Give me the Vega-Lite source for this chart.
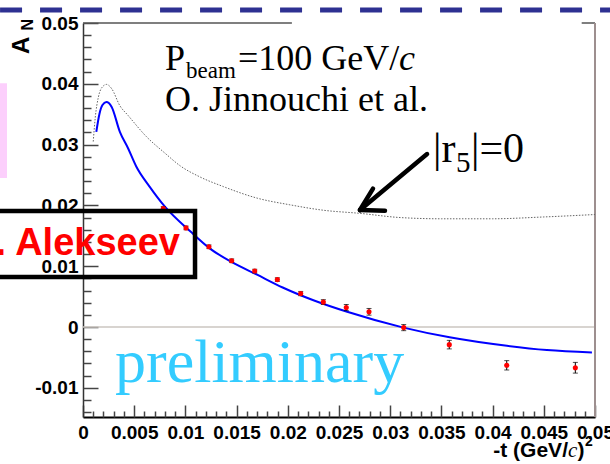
{
  "$schema": "https://vega.github.io/schema/vega-lite/v6.json",
  "width": 512,
  "height": 394,
  "autosize": "none",
  "padding": {"left": 83, "top": 23, "right": 15, "bottom": 47},
  "background": "white",
  "config": {"view": {"stroke": null}},
  "resolve": {"axis": {"x": "independent", "y": "independent"}},
  "layer": [
    {
      "data": {"values": [{"x": -0.0085, "x2": -0.00742, "y": 0.0245, "y2": 0.0401}]},
      "mark": {"type": "rect", "color": "#fccffc"},
      "encoding": {
        "x": {"field": "x", "type": "quantitative", "scale": {"domain": [0, 0.05], "nice": false, "zero": false}, "axis": null},
        "x2": {"field": "x2"},
        "y": {"field": "y", "type": "quantitative", "scale": {"domain": [-0.0148, 0.05], "nice": false, "zero": false}, "axis": null},
        "y2": {"field": "y2"}
      }
    },
    {
      "data": {"values": [{"x": -0.0081, "x2": 0.0515, "y": 0.05214}]},
      "mark": {"type": "rule", "color": "#2e3192", "strokeWidth": 5, "strokeDash": [22, 18]},
      "encoding": {
        "x": {"field": "x", "type": "quantitative", "scale": {"domain": [0, 0.05], "nice": false, "zero": false}, "axis": null},
        "x2": {"field": "x2"},
        "y": {"field": "y", "type": "quantitative", "scale": {"domain": [-0.0148, 0.05], "nice": false, "zero": false}, "axis": null}
      }
    },
    {
      "data": {"values": [{"x": 0, "x2": 0.05, "y": 0}, {"x": 0, "x2": 0.0204, "y": 0.05}, {"x": 0.0487, "x2": 0.05, "y": 0.05}]},
      "mark": {"type": "rule", "strokeWidth": 1.5},
      "encoding": {
        "x": {"field": "x", "type": "quantitative", "scale": {"domain": [0, 0.05], "nice": false, "zero": false}, "axis": null},
        "x2": {"field": "x2"},
        "y": {"field": "y", "type": "quantitative", "scale": {"domain": [-0.0148, 0.05], "nice": false, "zero": false}, "axis": null},
        "color": {"condition": {"test": "datum.y == 0", "value": "#cbc6c0"}, "value": "#555555"}
      }
    },
    {
      "data": {"values": [{"x": 0.05, "y": -0.0148, "y2": 0.05}]},
      "mark": {"type": "rule", "color": "#9d8f8f", "strokeWidth": 2},
      "encoding": {
        "x": {"field": "x", "type": "quantitative", "scale": {"domain": [0, 0.05], "nice": false, "zero": false}, "axis": null},
        "y": {"field": "y", "type": "quantitative", "scale": {"domain": [-0.0148, 0.05], "nice": false, "zero": false}, "axis": null},
        "y2": {"field": "y2"}
      }
    },
    {
      "data": {"values": [
        {"x": 0.0013, "y": 0.0321}, {"x": 0.0016, "y": 0.035}, {"x": 0.0019, "y": 0.0365}, {"x": 0.00228, "y": 0.037},
        {"x": 0.0028, "y": 0.0362}, {"x": 0.0036, "y": 0.0321}, {"x": 0.0044, "y": 0.0294}, {"x": 0.0052, "y": 0.0264},
        {"x": 0.0065, "y": 0.0231}, {"x": 0.008, "y": 0.0198}, {"x": 0.0105, "y": 0.0157}, {"x": 0.0124, "y": 0.0129},
        {"x": 0.0145, "y": 0.0107}, {"x": 0.017, "y": 0.0086}, {"x": 0.0195, "y": 0.0065}, {"x": 0.0225, "y": 0.0044},
        {"x": 0.0258, "y": 0.0025}, {"x": 0.0313, "y": -0.0001}, {"x": 0.0358, "y": -0.0017}, {"x": 0.0414, "y": -0.0031},
        {"x": 0.0453, "y": -0.0038}, {"x": 0.0497, "y": -0.0042}
      ]},
      "mark": {"type": "line", "color": "#0000ff", "strokeWidth": 2, "interpolate": "monotone"},
      "encoding": {
        "x": {"field": "x", "type": "quantitative", "scale": {"domain": [0, 0.05], "nice": false, "zero": false},
          "axis": {"orient": "bottom", "values": [0, 0.005, 0.01, 0.015, 0.02, 0.025, 0.03, 0.035, 0.04, 0.045, 0.05], "format": "~g",
            "ticks": false, "grid": false, "domain": true, "domainColor": "#000000", "domainWidth": 2,
            "labelFont": "Liberation Sans", "labelFontWeight": "bold", "labelFontSize": 19, "labelColor": "#000000",
            "labelPadding": 6, "labelFlush": false, "labelOverlap": false, "title": null}},
        "y": {"field": "y", "type": "quantitative", "scale": {"domain": [-0.0148, 0.05], "nice": false, "zero": false},
          "axis": {"orient": "left", "values": [-0.01, 0, 0.01, 0.02, 0.03, 0.04, 0.05],
            "labelExpr": "datum.value < 0 ? '-' + format(-datum.value, '~g') : format(datum.value, '~g')",
            "ticks": false, "grid": false, "domain": true, "domainColor": "#333333", "domainWidth": 1.5,
            "labelFont": "Liberation Sans", "labelFontWeight": "bold", "labelFontSize": 19, "labelColor": "#000000",
            "labelPadding": 5, "labelFlush": false, "labelOverlap": false, "title": null}}
      }
    },
    {
      "data": {"values": [
        {"x": 0.001, "y": 0.0305}, {"x": 0.0012, "y": 0.0345}, {"x": 0.0015, "y": 0.0378}, {"x": 0.0019, "y": 0.0395},
        {"x": 0.0023, "y": 0.0399}, {"x": 0.0028, "y": 0.0392}, {"x": 0.0036, "y": 0.0364}, {"x": 0.0044, "y": 0.0348},
        {"x": 0.0062, "y": 0.0313}, {"x": 0.008, "y": 0.0286}, {"x": 0.0095, "y": 0.0265}, {"x": 0.0114, "y": 0.0247},
        {"x": 0.0137, "y": 0.0231}, {"x": 0.017, "y": 0.0212}, {"x": 0.0202, "y": 0.0201}, {"x": 0.0235, "y": 0.0192},
        {"x": 0.027, "y": 0.0187}, {"x": 0.031, "y": 0.018}, {"x": 0.035, "y": 0.0178}, {"x": 0.04, "y": 0.0178},
        {"x": 0.045, "y": 0.0181}, {"x": 0.05, "y": 0.0185}
      ]},
      "mark": {"type": "line", "color": "#666666", "strokeWidth": 1, "strokeDash": [1.5, 1.5], "interpolate": "monotone"},
      "encoding": {
        "x": {"field": "x", "type": "quantitative", "scale": {"domain": [0, 0.05], "nice": false, "zero": false},
          "axis": {"orient": "bottom", "values": [0, 0.005, 0.01, 0.015, 0.02, 0.025, 0.03, 0.035, 0.04, 0.045, 0.05],
            "labels": false, "domain": false, "grid": false, "ticks": true, "tickSize": -12, "tickColor": "#444444", "tickWidth": 1.5, "title": null}},
        "y": {"field": "y", "type": "quantitative", "scale": {"domain": [-0.0148, 0.05], "nice": false, "zero": false},
          "axis": {"orient": "left", "values": [-0.01, 0, 0.01, 0.02, 0.03, 0.04, 0.05],
            "labels": false, "domain": false, "grid": false, "ticks": true, "tickSize": -15, "tickColor": "#444444", "tickWidth": 1.5, "title": null}}
      }
    },
    {
      "data": {"name": "pts", "values": [
        {"x": 0.00784, "y": 0.0195, "lo": 0.0192, "hi": 0.0198},
        {"x": 0.01006, "y": 0.0163, "lo": 0.016, "hi": 0.0166},
        {"x": 0.0123, "y": 0.0132, "lo": 0.0129, "hi": 0.0135},
        {"x": 0.01452, "y": 0.0109, "lo": 0.0106, "hi": 0.0112},
        {"x": 0.01677, "y": 0.0092, "lo": 0.0089, "hi": 0.0095},
        {"x": 0.01898, "y": 0.0078, "lo": 0.0075, "hi": 0.0081},
        {"x": 0.02126, "y": 0.0055, "lo": 0.00515, "hi": 0.00585},
        {"x": 0.02347, "y": 0.0041, "lo": 0.0037, "hi": 0.0045},
        {"x": 0.02571, "y": 0.0032, "lo": 0.0027, "hi": 0.0037},
        {"x": 0.02793, "y": 0.0025, "lo": 0.00195, "hi": 0.00305},
        {"x": 0.03132, "y": -0.0001, "lo": -0.0006, "hi": 0.0004},
        {"x": 0.03577, "y": -0.0029, "lo": -0.0036, "hi": -0.0022},
        {"x": 0.04138, "y": -0.0063, "lo": -0.00707, "hi": -0.00553},
        {"x": 0.04808, "y": -0.0067, "lo": -0.00758, "hi": -0.00582}
      ]},
      "mark": {"type": "errorbar", "ticks": {"size": 5, "color": "#000000"}, "rule": {"color": "#000000", "strokeWidth": 1}},
      "encoding": {
        "x": {"field": "x", "type": "quantitative", "scale": {"domain": [0, 0.05], "nice": false, "zero": false}, "axis": null},
        "y": {"field": "lo", "type": "quantitative", "scale": {"domain": [-0.0148, 0.05], "nice": false, "zero": false}, "axis": null},
        "y2": {"field": "hi"}
      }
    },
    {
      "data": {"name": "pts"},
      "mark": {"type": "point", "filled": true, "color": "#ff0000", "opacity": 1, "size": 26},
      "encoding": {
        "x": {"field": "x", "type": "quantitative", "scale": {"domain": [0, 0.05], "nice": false, "zero": false},
          "axis": {"orient": "bottom", "values": [0.001, 0.002, 0.003, 0.004, 0.006, 0.007, 0.008, 0.009, 0.011, 0.012, 0.013, 0.014, 0.016, 0.017, 0.018, 0.019, 0.021, 0.022, 0.023, 0.024, 0.026, 0.027, 0.028, 0.029, 0.031, 0.032, 0.033, 0.034, 0.036, 0.037, 0.038, 0.039, 0.041, 0.042, 0.043, 0.044, 0.046, 0.047, 0.048, 0.049],
            "labels": false, "domain": false, "grid": false, "ticks": true, "tickSize": -6, "tickColor": "#444444", "tickWidth": 1.5, "title": null}},
        "y": {"field": "y", "type": "quantitative", "scale": {"domain": [-0.0148, 0.05], "nice": false, "zero": false},
          "axis": {"orient": "left", "values": [-0.014, -0.012, -0.008, -0.006, -0.004, -0.002, 0.002, 0.004, 0.006, 0.008, 0.012, 0.014, 0.016, 0.018, 0.022, 0.024, 0.026, 0.028, 0.032, 0.034, 0.036, 0.038, 0.042, 0.044, 0.046, 0.048],
            "labels": false, "domain": false, "grid": false, "ticks": true, "tickSize": -8, "tickColor": "#444444", "tickWidth": 1.5, "title": null}}
      }
    },
    {
      "data": {"values": [
        {"x": 0.0336, "y": 0.02845, "x2": 0.02705, "y2": 0.01924},
        {"x": 0.02705, "y": 0.01924, "x2": 0.02949, "y2": 0.01914},
        {"x": 0.02705, "y": 0.01924, "x2": 0.02832, "y2": 0.02275}
      ]},
      "mark": {"type": "rule", "color": "#000000", "strokeWidth": 4.5, "strokeCap": "round"},
      "encoding": {
        "x": {"field": "x", "type": "quantitative", "scale": {"domain": [0, 0.05], "nice": false, "zero": false}, "axis": null},
        "x2": {"field": "x2"},
        "y": {"field": "y", "type": "quantitative", "scale": {"domain": [-0.0148, 0.05], "nice": false, "zero": false}, "axis": null},
        "y2": {"field": "y2"}
      }
    },
    {
      "data": {"values": [{"x": -0.012, "x2": 0.01094, "y": 0.00822, "y2": 0.01908}]},
      "mark": {"type": "rect", "fill": "transparent", "stroke": "#000000", "strokeWidth": 4.5},
      "encoding": {
        "x": {"field": "x", "type": "quantitative", "scale": {"domain": [0, 0.05], "nice": false, "zero": false}, "axis": null},
        "x2": {"field": "x2"},
        "y": {"field": "y", "type": "quantitative", "scale": {"domain": [-0.0148, 0.05], "nice": false, "zero": false}, "axis": null},
        "y2": {"field": "y2"}
      }
    },
    {
      "data": {"values": [
        {"x": 0.00801, "y": 0.04227, "t": "P", "s": 36, "c": "#000000"},
        {"x": 0.01006, "y": 0.04095, "t": "beam", "s": 23, "c": "#000000"},
        {"x": 0.01514, "y": 0.04227, "t": "=100 GeV/", "s": 36, "c": "#000000"},
        {"x": 0.00801, "y": 0.03553, "t": "O. Jinnouchi et al.", "s": 36, "c": "#000000"},
        {"x": 0.03418, "y": 0.02714, "t": "|r", "s": 42, "c": "#000000"},
        {"x": 0.03643, "y": 0.02549, "t": "5", "s": 29, "c": "#000000"},
        {"x": 0.03789, "y": 0.02714, "t": "|=0", "s": 42, "c": "#000000"},
        {"x": 0.003125, "y": -0.00905, "t": "preliminary", "s": 62, "c": "#33ccff"}
      ]},
      "mark": {"type": "text", "baseline": "alphabetic", "align": "left", "font": "Liberation Serif"},
      "encoding": {
        "x": {"field": "x", "type": "quantitative", "scale": {"domain": [0, 0.05], "nice": false, "zero": false}, "axis": null},
        "y": {"field": "y", "type": "quantitative", "scale": {"domain": [-0.0148, 0.05], "nice": false, "zero": false}, "axis": null},
        "text": {"field": "t"},
        "size": {"field": "s", "type": "quantitative", "scale": null, "legend": null},
        "color": {"field": "c", "type": "nominal", "scale": null, "legend": null}
      }
    },
    {
      "data": {"values": [
        {"x": 0.03086, "y": 0.04227, "t": "c", "s": 36},
        {"x": 0.04736, "y": -0.02138, "t": "c", "s": 21}
      ]},
      "mark": {"type": "text", "baseline": "alphabetic", "align": "left", "font": "Liberation Serif", "fontStyle": "italic", "color": "#000000"},
      "encoding": {
        "x": {"field": "x", "type": "quantitative", "scale": {"domain": [0, 0.05], "nice": false, "zero": false}, "axis": null},
        "y": {"field": "y", "type": "quantitative", "scale": {"domain": [-0.0148, 0.05], "nice": false, "zero": false}, "axis": null},
        "text": {"field": "t"},
        "size": {"field": "s", "type": "quantitative", "scale": null, "legend": null}
      }
    },
    {
      "data": {"values": [
        {"x": 0.00947, "y": 0.01184, "t": "I. Alekseev", "s": 38, "c": "#ff0000"},
        {"x": 0.04736, "y": -0.02138, "t": "-t (GeV/", "s": 21, "c": "#000000"}
      ]},
      "mark": {"type": "text", "baseline": "alphabetic", "align": "right", "font": "Liberation Sans", "fontWeight": "bold"},
      "encoding": {
        "x": {"field": "x", "type": "quantitative", "scale": {"domain": [0, 0.05], "nice": false, "zero": false}, "axis": null},
        "y": {"field": "y", "type": "quantitative", "scale": {"domain": [-0.0148, 0.05], "nice": false, "zero": false}, "axis": null},
        "text": {"field": "t"},
        "size": {"field": "s", "type": "quantitative", "scale": null, "legend": null},
        "color": {"field": "c", "type": "nominal", "scale": null, "legend": null}
      }
    },
    {
      "data": {"values": [
        {"x": 0.04829, "y": -0.02138, "t": ")", "s": 21, "r": 0},
        {"x": 0.04902, "y": -0.01957, "t": "2", "s": 14, "r": 0},
        {"x": -0.00527, "y": 0.0449, "t": "A", "s": 24, "r": 270},
        {"x": -0.00488, "y": 0.04875, "t": "N", "s": 16, "r": 270}
      ]},
      "mark": {"type": "text", "baseline": "alphabetic", "align": "left", "font": "Liberation Sans", "fontWeight": "bold", "color": "#000000"},
      "encoding": {
        "x": {"field": "x", "type": "quantitative", "scale": {"domain": [0, 0.05], "nice": false, "zero": false}, "axis": null},
        "y": {"field": "y", "type": "quantitative", "scale": {"domain": [-0.0148, 0.05], "nice": false, "zero": false}, "axis": null},
        "text": {"field": "t"},
        "size": {"field": "s", "type": "quantitative", "scale": null, "legend": null},
        "angle": {"field": "r", "type": "quantitative", "scale": null, "legend": null}
      }
    }
  ]
}
